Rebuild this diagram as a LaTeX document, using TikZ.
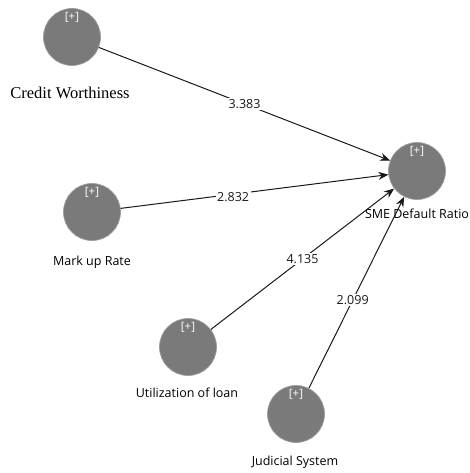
\documentclass[tikz,border=0pt]{standalone}
\usepackage{fontspec}
\setmainfont{Open Sans}
\newfontfamily\serifname{Liberation Serif}
\usetikzlibrary{arrows.meta}

\begin{document}
\begin{tikzpicture}[x=1pt, y=-1pt,
	latent/.style={circle, fill=black!52, draw=black!38, line width=0.7pt, minimum size=57pt, inner sep=0pt},
	plus/.style={text=white, font=\fontsize{11.5}{12}\selectfont, inner sep=0pt},
	varlabel/.style={font=\fontsize{12.5}{14}\selectfont, inner sep=0pt},
	weight/.style={fill=white, inner sep=1.5pt, font=\fontsize{12.5}{14}\selectfont},
	pathline/.style={-{Stealth[length=10pt, width=8pt]}, line width=1pt, black!90}]
	\useasboundingbox (0,0) rectangle (470,473);

	\node[latent] (CW)  at (72,37)   {};
	\node[latent] (MR)  at (92,212)  {};
	\node[latent] (UL)  at (188,347) {};
	\node[latent] (JS)  at (296,414) {};
	\node[latent] (SME) at (417,171) {};

	\node[plus] (CWp)  at (72,17)   {[+]};
	\node[plus] (MRp)  at (92,192)  {[+]};
	\node[plus] (ULp)  at (188,327) {[+]};
	\node[plus] (JSp)  at (296,394) {[+]};
	\node[plus] (SMEp) at (417,151) {[+]};

	\node[font=\serifname\fontsize{16.5}{18}\selectfont, inner sep=0pt] (CWt) at (70,93) {Credit Worthiness};
	\node[varlabel] (MRt)  at (92,262)  {Mark up Rate};
	\node[varlabel] (ULt)  at (187,393) {Utilization of loan};
	\node[varlabel] (JSt)  at (295,462) {Judicial System};
	\node[varlabel] (SMEt) at (417,214) {SME Default Ratio};

	\draw[pathline] (CW) -- node[weight, pos=0.5] {3.383} (SME);
	\draw[pathline] (MR) -- node[weight, pos=0.42, yshift=-3pt] {2.832} (SME);
	\draw[pathline] (UL) -- node[weight, pos=0.5] {4.135} (SME);
	\draw[pathline] (JS) -- node[weight, pos=0.46] {2.099} (SME);
\end{tikzpicture}
\end{document}
